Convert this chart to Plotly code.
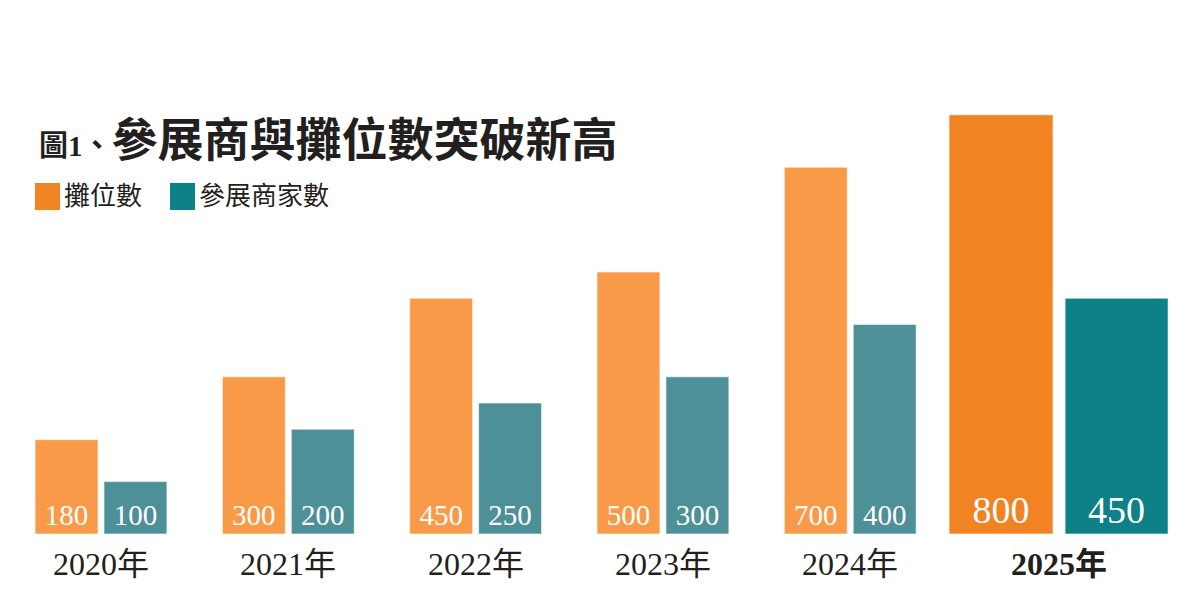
import plotly.graph_objects as go

years = ["2020年", "2021年", "2022年", "2023年", "2024年", "2025年"]
booths = [180, 300, 450, 500, 700, 800]
exhibitors = [100, 200, 250, 300, 400, 450]
series_names = ["攤位數", "參展商家數"]
title_prefix = "圖1、"
title_main = "參展商與攤位數突破新高"

# styles
orange_light, orange_dark = "#F89A48", "#F28322"
teal_light, teal_dark = "#4E9098", "#0E8087"
SERIF = "Liberation Serif, Noto Sans CJK TC, serif"
TXT = "#231F20"
PAGE_OFF = 8  # page body margin in the browser

n = len(years)
hl = n - 1  # highlighted last year
o_col = [orange_light] * (n - 1) + [orange_dark]
t_col = [teal_light] * (n - 1) + [teal_dark]
o_off = [-0.352] * (n - 1) + [-0.4725]
o_w = [0.336] * (n - 1) + [0.555]
t_off = [0.016] * (n - 1) + [0.147]
t_w = [0.336] * (n - 1) + [0.550]
lab_size = [29] * (n - 1) + [38]

fig = go.Figure()
fig.add_bar(x=years, y=booths, name=series_names[0], offset=o_off, width=o_w,
            marker=dict(color=o_col, line=dict(color="rgba(255,255,255,0.6)", width=1)),
            text=[str(v) for v in booths], textposition="inside", insidetextanchor="start",
            textangle=0, textfont=dict(family=SERIF, size=lab_size, color="white"),
            hoverinfo="skip")
fig.add_bar(x=years, y=exhibitors, name=series_names[1], offset=t_off, width=t_w,
            marker=dict(color=t_col, line=dict(color="rgba(255,255,255,0.6)", width=1)),
            text=[str(v) for v in exhibitors], textposition="inside", insidetextanchor="start",
            textangle=0, textfont=dict(family=SERIF, size=lab_size, color="white"),
            hoverinfo="skip")

annotations = []
for i, yr in enumerate(years):
    annotations.append(dict(
        x=yr, y=0, xref="x", yref="y", yanchor="top", xanchor="center",
        xshift=21 if i == hl else 0, yshift=-10, showarrow=False,
        text=f"<b>{yr}</b>" if i == hl else yr,
        font=dict(family=SERIF, size=32, color=TXT)))

def py(p):  # screen pixel y -> paper y
    return (534 - p) / 524

def px(p):  # screen pixel x -> paper x
    return (p - PAGE_OFF) / 1200

annotations.append(dict(
    x=px(37), y=py(140), xref="paper", yref="paper", xanchor="left", yanchor="middle",
    showarrow=False,
    text=f"<b><span style='font-size:29px'>{title_prefix}</span>{title_main}</b>",
    font=dict(family=SERIF, size=46, color=TXT)))

shapes = []
leg = [(35, 60, 62, orange_dark, series_names[0]), (170, 195, 197, teal_dark, series_names[1])]
for x0, x1, xt, c, name in leg:
    shapes.append(dict(type="rect", xref="paper", yref="paper", x0=px(x0), x1=px(x1),
                       y0=py(210), y1=py(183), fillcolor=c, line=dict(width=0), layer="above"))
    annotations.append(dict(x=px(xt), y=py(197), xref="paper", yref="paper", xanchor="left",
                            yanchor="middle", showarrow=False, text=name,
                            font=dict(family=SERIF, size=26, color=TXT)))

fig.update_layout(
    width=1200, height=608, margin=dict(l=0, r=0, t=2, b=82),
    paper_bgcolor="white", plot_bgcolor="white", showlegend=False, barmode="overlay",
    xaxis=dict(type="category", range=[-0.4965, 5.910], showticklabels=False, showgrid=False,
               zeroline=False, showline=False, ticks=""),
    yaxis=dict(range=[0, 1000], visible=False, showgrid=False, zeroline=False),
    annotations=annotations, shapes=shapes,
)

fig.write_html("out.html")
